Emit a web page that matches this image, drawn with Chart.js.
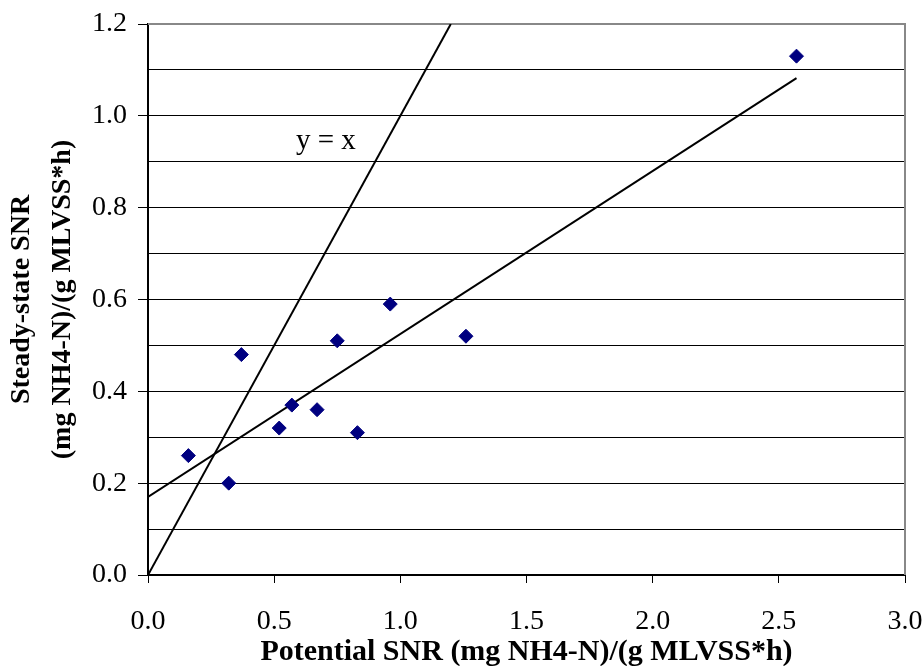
<!DOCTYPE html>
<html>
<head>
<meta charset="utf-8">
<script src="https://cdn.jsdelivr.net/npm/chart.js@4"></script>
<style>
    html, body { margin: 0; padding: 0; background: #fff; }
    #wrap { width: 924px; height: 666px; }
</style>
</head>
<body>
<div id="wrap"><canvas id="snrChart" width="924" height="666"></canvas></div>
<script>
// data
const potentialSNR = [0.16, 0.32, 0.37, 0.52, 0.57, 0.67, 0.75, 0.83, 0.96, 1.26, 2.57]
const steadySNR = [0.26, 0.20, 0.48, 0.32, 0.37, 0.36, 0.51, 0.31, 0.59, 0.52, 1.13]
const trendX = [0, 2.57]
const trendY = [0.170, 1.082]
const identityX = [0, 1.2]
const identityY = [0, 1.2]
const identityLabel = 'y = x'
const identityLabelAt = [0.705, 0.945]
const xTitle = 'Potential SNR (mg NH4-N)/(g MLVSS*h)'
const yTitle = ['Steady-state SNR', '(mg NH4-N)/(g MLVSS*h)']

// helpers
const toPoints = (xs, ys) => xs.map((x, i) => ({ x: x, y: ys[i] }))
const serif = '"Liberation Serif", "Times New Roman", serif'
const isEven = (value) => Math.round(value * 10) % 2 === 0

// draws the grey frame on the top and right of the plot area
const framePlugin = {
    id: 'frame',
    beforeDatasetsDraw: (chart) => {
        const { ctx, chartArea } = chart
        ctx.save()
        ctx.strokeStyle = '#888888'
        ctx.lineWidth = 2
        ctx.beginPath()
        ctx.moveTo(chartArea.left, chartArea.top)
        ctx.lineTo(chartArea.right, chartArea.top)
        ctx.lineTo(chartArea.right, chartArea.bottom)
        ctx.stroke()
        ctx.restore()
    }
}

// writes the "y = x" note next to the identity line
const notePlugin = {
    id: 'note',
    afterDatasetsDraw: (chart) => {
        const { ctx, scales } = chart
        ctx.save()
        ctx.font = '29px ' + serif
        ctx.fillStyle = '#000'
        ctx.textAlign = 'center'
        ctx.textBaseline = 'middle'
        ctx.fillText(identityLabel, scales.x.getPixelForValue(identityLabelAt[0]), scales.y.getPixelForValue(identityLabelAt[1]))
        ctx.restore()
    }
}

const config = {
    type: 'scatter',
    data: {
        datasets: [{
            label: 'data',
            data: toPoints(potentialSNR, steadySNR),
            pointStyle: 'rectRot',
            pointRadius: 7,
            pointHoverRadius: 7,
            backgroundColor: '#000080',
            borderColor: '#000080',
            borderWidth: 1
        }, {
            label: 'trend',
            data: toPoints(trendX, trendY),
            showLine: true,
            pointRadius: 0,
            borderColor: '#000',
            borderWidth: 2
        }, {
            label: 'identity',
            data: toPoints(identityX, identityY),
            showLine: true,
            pointRadius: 0,
            borderColor: '#000',
            borderWidth: 2
        }]
    },
    options: {
        responsive: false,
        animation: false,
        layout: { padding: { top: 24, right: 19, left: 0, bottom: 0 } },
        plugins: {
            legend: { display: false },
            tooltip: { enabled: false }
        },
        scales: {
            x: {
                type: 'linear',
                min: 0,
                max: 3,
                afterFit: (scale) => {
                    scale.height = 91
                    scale.paddingLeft = 0
                    scale.paddingRight = 0
                },
                border: { display: true, color: '#000', width: 2 },
                grid: { drawOnChartArea: false, drawTicks: true, tickLength: 8, tickColor: '#000' },
                ticks: {
                    stepSize: 0.5,
                    padding: 22,
                    color: '#000',
                    maxRotation: 0,
                    font: { family: serif, size: 28 },
                    callback: (value) => value.toFixed(1)
                },
                title: {
                    display: true,
                    text: xTitle,
                    color: '#000',
                    padding: { top: 0, bottom: 0 },
                    font: { family: serif, size: 30, weight: 'bold', lineHeight: 0.95 }
                }
            },
            y: {
                type: 'linear',
                min: 0,
                max: 1.2,
                afterFit: (scale) => {
                    scale.width = 148
                    scale.paddingTop = 0
                    scale.paddingBottom = 0
                },
                border: { display: true, color: '#000', width: 2 },
                grid: {
                    color: '#000',
                    lineWidth: 1,
                    tickLength: 10,
                    tickColor: (ctx) => isEven(ctx.tick.value) ? '#000' : 'rgba(0,0,0,0)'
                },
                ticks: {
                    stepSize: 0.1,
                    autoSkip: false,
                    padding: 11,
                    color: '#000',
                    font: { family: serif, size: 28 },
                    callback: (value) => isEven(value) ? value.toFixed(1) : ''
                },
                title: {
                    display: true,
                    text: yTitle,
                    color: '#000',
                    padding: { top: 1, bottom: 0 },
                    font: { family: serif, size: 28, weight: 'bold', lineHeight: 1.47 }
                }
            }
        }
    },
    plugins: [framePlugin, notePlugin]
}

const snrChart = new Chart(document.getElementById('snrChart'), config)
</script>
</body>
</html>
